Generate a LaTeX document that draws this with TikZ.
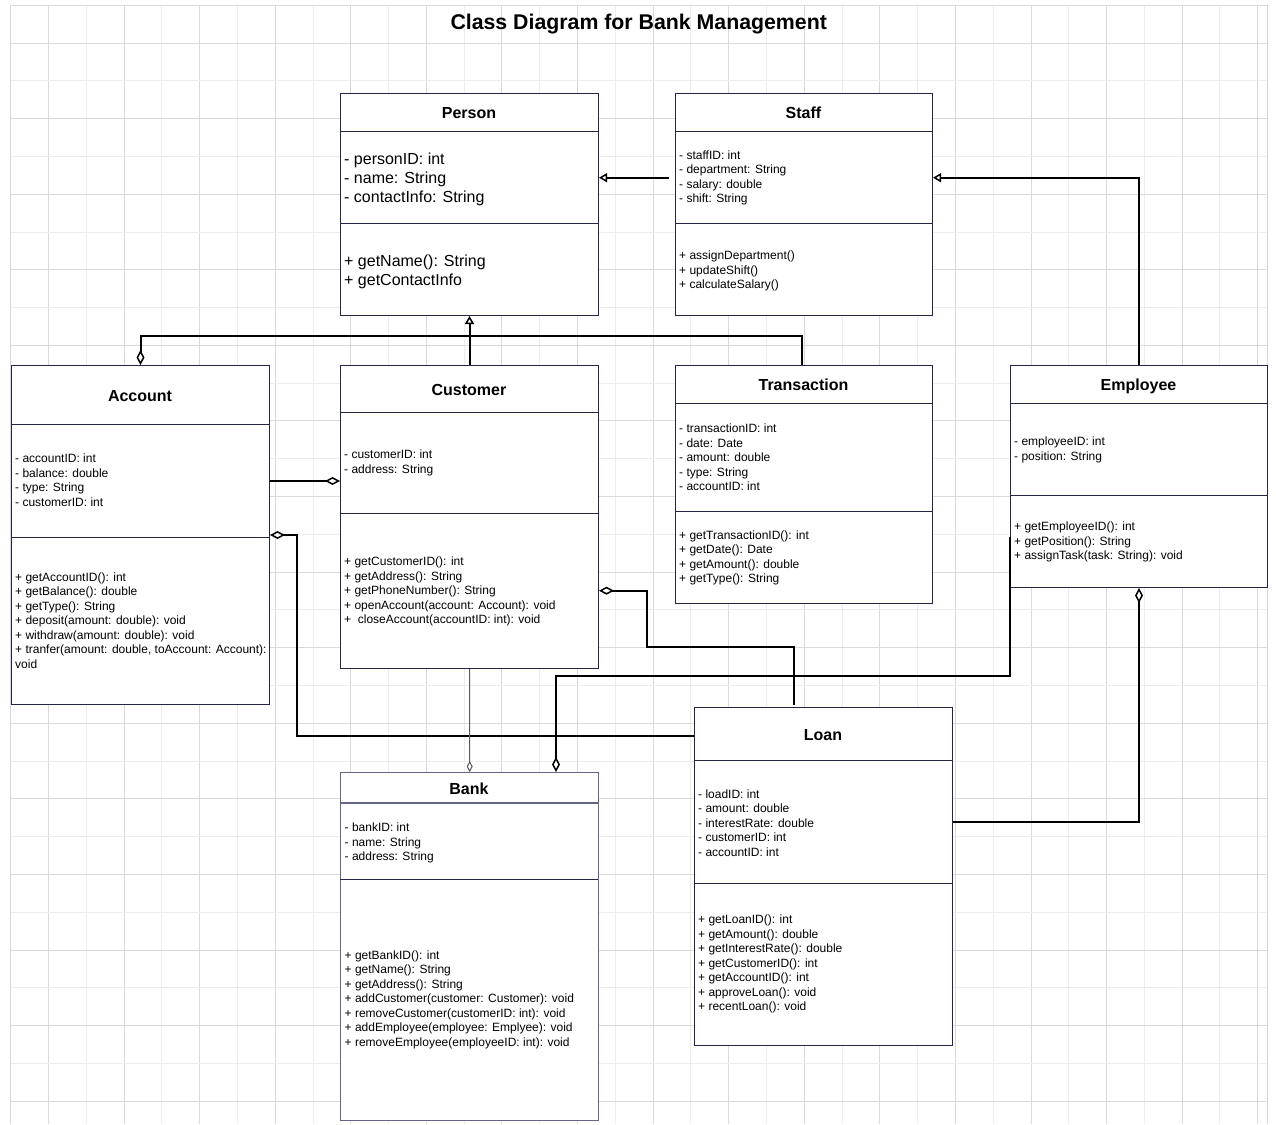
\documentclass[tikz,border=0pt]{standalone}
\usepackage{fontspec}
\setmainfont{Liberation Sans}
\usetikzlibrary{arrows.meta}
\definecolor{boxc}{RGB}{36,38,72}
\definecolor{bankc}{RGB}{100,102,135}
\definecolor{gridD}{RGB}{217,217,217}
\definecolor{gridL}{RGB}{236,236,236}
\tikzset{
 classbox/.style={draw=boxc, fill=white, line width=1pt, inner sep=0pt, anchor=north west},
 sepline/.style={draw=boxc, line width=1pt},
 ctitle/.style={font=\fontsize{16}{19.2}\selectfont\bfseries, inner sep=0pt, anchor=base, yshift=-1pt},
 small/.style={font=\fontsize{12}{14.5}\selectfont, align=left, anchor=west, inner sep=0pt, yshift=-1.5pt},
 big/.style={font=\fontsize{16}{19.2}\selectfont, align=left, anchor=west, inner sep=0pt, yshift=-2.5pt},
 conn/.style={draw=black, line width=2pt},
 thinconn/.style={draw=black!65, line width=1pt},
 gen/.style={-{Triangle[open, length=8pt, width=9pt, line width=1.5pt]}},
 aggE/.style={-{Diamond[open, length=15pt, width=8pt, line width=1.5pt]}},
 aggS/.style={{Diamond[open, length=15pt, width=8pt, line width=1.5pt]}-},
 aggThin/.style={-{Diamond[open, length=11pt, width=6pt, line width=1pt]}},
 gridline/.style={line width=1pt},
}
\begin{document}
\begin{tikzpicture}[x=1pt,y=-1pt]
\useasboundingbox (0,0) rectangle (1276,1124);
\fill[white] (0,0) rectangle (1276,1124);
% grid
\foreach \k in {1,...,33}{
  \ifodd\k \def\gc{gridD}\else\def\gc{gridL}\fi
  \draw[gridline, draw=\gc] ({10.7+37.79*\k},5.3) -- ({10.7+37.79*\k},1124);
}
\foreach \k in {1,...,29}{
  \ifodd\k \def\gc{gridD}\else\def\gc{gridL}\fi
  \draw[gridline, draw=\gc] (10.7,{5.3+37.79*\k}) -- (1267.7,{5.3+37.79*\k});
}
\draw[gridline, draw=gridD] (10.7,1124) -- (10.7,5.3) -- (1267.7,5.3) -- (1267.7,1124);

% title
\node[font=\fontsize{21.3}{25}\selectfont\bfseries, inner sep=0pt, anchor=base] (title) at (638.7,29.3) {Class Diagram for Bank Management};

% Person
\node[classbox, minimum width=258pt, minimum height=222pt] (person) at (340,93) {};
\draw[sepline] (340,131) -- (598,131);
\draw[sepline] (340,223) -- (598,223);
\node[ctitle] (personT) at (469,117.7) {Person};
\node[big] (personA) at (344,177) {- personID: int\\- name: String\\- contactInfo: String};
\node[big] (personM) at (344,269.5) {+ getName(): String\\+ getContactInfo};

% Staff
\node[classbox, minimum width=257pt, minimum height=222pt] (staff) at (675,93) {};
\draw[sepline] (675,131) -- (932,131);
\draw[sepline] (675,223) -- (932,223);
\node[ctitle] (staffT) at (803.5,117.7) {Staff};
\node[small] (staffA) at (679,176.5) {- staffID: int\\- department: String\\- salary: double\\- shift: String};
\node[small] (staffM) at (679,269.5) {+ assignDepartment()\\+ updateShift()\\+ calculateSalary()};

% Account
\node[classbox, minimum width=258pt, minimum height=339pt] (account) at (11,365) {};
\draw[sepline] (11,424) -- (269,424);
\draw[sepline] (11,537) -- (269,537);
\node[ctitle] (accountT) at (140,400.7) {Account};
\node[small] (accountA) at (15,478.5) {- accountID: int\\- balance: double\\- type: String\\- customerID: int};
\node[small] (accountM) at (15,619) {+ getAccountID(): int\\+ getBalance(): double\\+ getType(): String\\+ deposit(amount: double): void\\+ withdraw(amount: double): void\\+ tranfer(amount: double, toAccount: Account):\\void};

% Customer
\node[classbox, minimum width=258pt, minimum height=303pt] (customer) at (340,365) {};
\draw[sepline] (340,412) -- (598,412);
\draw[sepline] (340,513) -- (598,513);
\node[ctitle] (customerT) at (469,394.7) {Customer};
\node[small] (customerA) at (344,461.5) {- customerID: int\\- address: String};
\node[small] (customerM) at (344,590) {+ getCustomerID(): int\\+ getAddress(): String\\+ getPhoneNumber(): String\\+ openAccount(account: Account): void\\+ \ closeAccount(accountID: int): void};

% Transaction
\node[classbox, minimum width=257pt, minimum height=238pt] (transaction) at (675,365) {};
\draw[sepline] (675,403) -- (932,403);
\draw[sepline] (675,511) -- (932,511);
\node[ctitle] (transactionT) at (803.5,389.7) {Transaction};
\node[small] (transactionA) at (679,456) {- transactionID: int\\- date: Date\\- amount: double\\- type: String\\- accountID: int};
\node[small] (transactionM) at (679,556.5) {+ getTransactionID(): int\\+ getDate(): Date\\+ getAmount(): double\\+ getType(): String};

% Employee
\node[classbox, minimum width=257pt, minimum height=222pt] (employee) at (1010,365) {};
\draw[sepline] (1010,403) -- (1267,403);
\draw[sepline] (1010,495) -- (1267,495);
\node[ctitle] (employeeT) at (1138.5,389.7) {Employee};
\node[small] (employeeA) at (1014,448.5) {- employeeID: int\\- position: String};
\node[small] (employeeM) at (1014,540.5) {+ getEmployeeID(): int\\+ getPosition(): String\\+ assignTask(task: String): void};

% Bank
\node[classbox, draw=bankc, line width=1.4pt, minimum width=258pt, minimum height=348pt] (bank) at (340,772) {};
\draw[sepline, draw=bankc, line width=1.4pt] (340,803) -- (598,803);
\draw[sepline] (340,879) -- (598,879);
\node[ctitle] (bankT) at (469,793.7) {Bank};
\node[small] (bankA) at (344.5,841.5) {- bankID: int\\- name: String\\- address: String};
\node[small] (bankM) at (344.5,998) {+ getBankID(): int\\+ getName(): String\\+ getAddress(): String\\+ addCustomer(customer: Customer): void\\+ removeCustomer(customerID: int): void\\+ addEmployee(employee: Emplyee): void\\+ removeEmployee(employeeID: int): void};

% Loan
\node[classbox, minimum width=258pt, minimum height=338pt] (loan) at (694,707) {};
\draw[sepline] (694,760) -- (952,760);
\draw[sepline] (694,883) -- (952,883);
\node[ctitle] (loanT) at (823,739.7) {Loan};
\node[small] (loanA) at (698,821.5) {- loadID: int\\- amount: double\\- interestRate: double\\- customerID: int\\- accountID: int};
\node[small] (loanM) at (698,962.5) {+ getLoanID(): int\\+ getAmount(): double\\+ getInterestRate(): double\\+ getCustomerID(): int\\+ getAccountID(): int\\+ approveLoan(): void\\+ recentLoan(): void};

% helper coordinates
\coordinate (staffL) at (669,177.7);
\coordinate (busY) at (0,336);
\coordinate (acY) at (0,481);
\coordinate (alY) at (0,535);
\coordinate (alX) at (297,0);
\coordinate (lnY) at (0,736);
\coordinate (clY) at (0,590.7);
\coordinate (clX) at (646.5,0);
\coordinate (clY2) at (0,646.7);
\coordinate (clEnd) at (793.5,705);
\coordinate (ebStart) at (1009.5,537);
\coordinate (ebY) at (0,675.7);
\coordinate (ebX) at (556,0);
\coordinate (elY) at (0,822.3);

% connectors
\draw[conn, gen] (staffL) -- (person.east |- staffL);
\draw[conn, gen] (employee.north) |- (staff.east |- staffL);
\draw[conn, gen] (customer.north) -- (person.south);
\draw[conn, aggS] (account.north) |- ([xshift=-2.5pt]transaction.north |- busY) -- ([xshift=-2.5pt]transaction.north);
\draw[conn, aggE] (account.east |- acY) -- (customer.west |- acY);
\draw[conn, aggS] (account.east |- alY) -- (alX |- alY) |- (loan.west |- lnY);
\draw[conn, aggS] (customer.east |- clY) -- (clX |- clY) |- (clEnd |- clY2) -- (clEnd);
\draw[thinconn, aggThin] (customer.south) -- (bank.north);
\draw[conn, aggE] (ebStart) |- (ebX |- ebY) -- (ebX |- bank.north);
\draw[conn, aggS] (employee.south) |- (loan.east |- elY);
\end{tikzpicture}
\end{document}
